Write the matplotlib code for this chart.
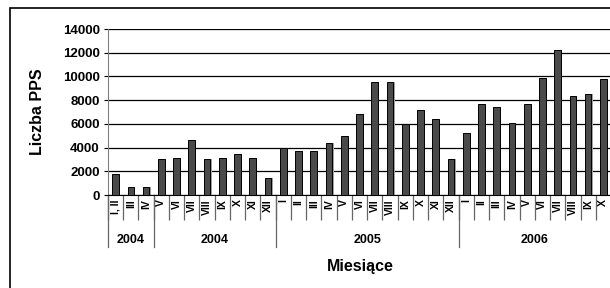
import numpy as np
import matplotlib
matplotlib.use("Agg")
import matplotlib.pyplot as plt
import matplotlib.transforms as mtransforms
from matplotlib.patches import Rectangle

plt.rcParams['font.family'] = ['Liberation Sans', 'DejaVu Sans']

# dane
months = ["I, II", "III", "IV",
          "V", "VI", "VII", "VIII", "IX", "X", "XI", "XII",
          "I", "II", "III", "IV", "V", "VI", "VII", "VIII", "IX", "X", "XI", "XII",
          "I", "II", "III", "IV", "V", "VI", "VII", "VIII", "IX", "X"]
values = [1750, 650, 650,
          3000, 3150, 4650, 3000, 3150, 3500, 3150, 1450,
          3950, 3750, 3750, 4400, 5000, 6800, 9550, 9550, 6000, 7200, 6450, 3000,
          5200, 7650, 7450, 6100, 7650, 9900, 12200, 8350, 8550, 9800]
years = ["2004", "2004", "2005", "2006"]
year_sizes = [3, 8, 12, 10]

x = np.arange(len(months))

fig = plt.figure(figsize=(6.1, 2.88), dpi=100)
ax = fig.add_axes([108/610, 1-195/288, 503/610, 166/288])

# ramka wykresu
fig.patches.append(Rectangle((10/610, -0.2), 1.2, 1.2 - 8/288, transform=fig.transFigure,
                             fill=False, edgecolor='black', linewidth=1.2))

ax.set_axisbelow(True)
ax.yaxis.grid(True, color='black', linewidth=0.9)
# cien slupkow
ax.bar(x + 0.08, values, width=0.44, color='#a0a0a0', edgecolor='none', zorder=2)
ax.bar(x, values, width=0.44, color='#4a4a4a', edgecolor='black', linewidth=0.7, zorder=3)

ax.set_xlim(-0.5, len(months) - 0.5)
ax.set_ylim(0, 14000)
ax.set_yticks(np.arange(0, 14001, 2000))
ax.tick_params(axis='y', labelsize=9.5, length=3, width=0.8, pad=3)
for t in ax.get_yticklabels():
    t.set_fontweight('bold')

ax.set_xticks(x)
ax.set_xticklabels(months, rotation=90, fontsize=7.5, fontweight='bold')
ax.tick_params(axis='x', which='major', length=0, pad=3)
ax.set_xticks(np.arange(len(months) + 1) - 0.5, minor=True)
ax.tick_params(axis='x', which='minor', length=18, width=0.9, color='#666666', direction='out')

for s in ['top', 'right']:
    ax.spines[s].set_visible(False)
ax.spines['left'].set_color('#808080')
ax.spines['bottom'].set_color('black')

# granice lat
trans = mtransforms.blended_transform_factory(ax.transData, ax.transAxes)
bounds = np.concatenate([[0], np.cumsum(year_sizes)]) - 0.5
for b in bounds:
    ax.plot([b, b], [0, -52/166], color='#666666', linewidth=0.9, transform=trans, clip_on=False)
for i, yr in enumerate(years):
    c = (bounds[i] + bounds[i + 1]) / 2
    ax.text(c, -45/166, yr, transform=trans, ha='center', va='center',
            fontsize=9, fontweight='bold')

fig.text(0.59, 1-266/288, "Miesiące", ha='center', va='center', fontsize=11.5, fontweight='bold')
fig.text(37/610, 1-112/288, "Liczba PPS", ha='center', va='center', rotation=90,
         fontsize=11.5, fontweight='bold')

fig.savefig("out.png", dpi=100)
